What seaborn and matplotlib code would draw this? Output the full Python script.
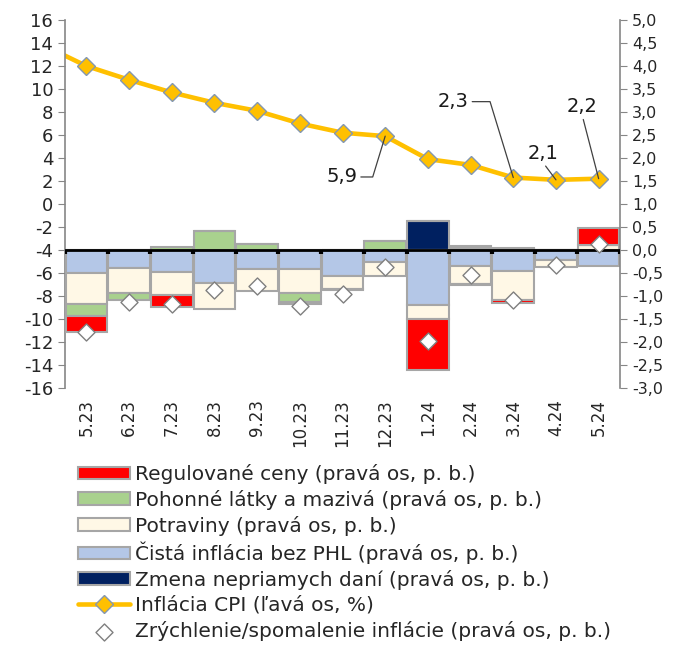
import numpy as np
import seaborn as sns
import matplotlib.pyplot as plt

months = ["5.23", "6.23", "7.23", "8.23", "9.23", "10.23", "11.23",
          "12.23", "1.24", "2.24", "3.24", "4.24", "5.24"]

# contributions, right axis (p. b.)
regulated = [-0.34, 0.00, -0.26, 0.00, 0.00, -0.04, 0.00,
             0.00, -1.11, -0.04, -0.06, 0.00, 0.37]
fuels = [-0.26, -0.15, 0.07, 0.41, 0.12, -0.20, -0.04,
         0.19, 0.00, 0.04, 0.03, 0.00, 0.00]
food = [-0.68, -0.54, -0.50, -0.58, -0.48, -0.51, -0.27,
        -0.30, -0.30, -0.38, -0.63, -0.16, 0.10]
core = [-0.50, -0.39, -0.48, -0.71, -0.41, -0.42, -0.57,
        -0.26, -1.20, -0.35, -0.46, -0.21, -0.35]
taxes = [0.00, 0.00, 0.00, 0.00, 0.00, 0.00, 0.00,
         0.00, 0.64, 0.05, 0.02, 0.00, 0.00]
acceleration = [-1.78, -1.13, -1.17, -0.87, -0.78, -1.21, -0.95,
                -0.37, -1.98, -0.55, -1.08, -0.32, 0.13]

# CPI, left axis (%), first value is 4.23 (outside the visible range)
cpi_x = list(range(-1, 13))
cpi = [13.8, 12.0, 10.8, 9.7, 8.8, 8.1, 7.0, 6.2, 5.9, 3.9, 3.4, 2.3, 2.1, 2.2]

# labelled CPI points: month index -> text position (x, y in left axis units)
cpi_labels = {7: (5.99, 2.35), 10: (8.60, 8.90), 11: (10.70, 4.41),
              12: (11.62, 8.46)}

sns.set_style("white")
plt.rcParams["font.family"] = ["DejaVu Sans"]
plt.rcParams["axes.unicode_minus"] = False

gray = "#868686"
fig = plt.figure(figsize=(6.86, 6.47), dpi=100)
ax = fig.add_axes([65 / 686, 1 - 388 / 647, 555 / 686, 368 / 647])
ax2 = ax.twinx()

x = np.arange(len(months))

# stacked bars, Excel order: first series sits next to zero
series = [(taxes, "#002060", "Zmena nepriamych daní (pravá os, p. b.)"),
          (core, "#B4C7E7", "Čistá inflácia bez PHL (pravá os, p. b.)"),
          (food, "#FFF8E6", "Potraviny (pravá os, p. b.)"),
          (fuels, "#A9D18E", "Pohonné látky a mazivá (pravá os, p. b.)"),
          (regulated, "#FF0000", "Regulované ceny (pravá os, p. b.)")]
pos = np.zeros(len(months))
neg = np.zeros(len(months))
for vals, color, label in series:
    v = np.array(vals)
    bottom = np.where(v >= 0, pos, neg)
    ax2.bar(x, v, bottom=bottom, width=0.975, color=color,
            edgecolor="#A6A6A6", linewidth=1.5, label=label, zorder=2)
    pos = pos + np.where(v > 0, v, 0)
    neg = neg + np.where(v < 0, v, 0)

ax2.axhline(0, color="black", lw=2, zorder=3)
ax2.vlines(np.arange(-0.5, len(months)), -0.09, 0, color="black", lw=3,
           zorder=3)

sns.scatterplot(x=x, y=acceleration, ax=ax2, marker="D", s=75,
                color="white", edgecolor="#7F7F7F", linewidth=1, zorder=5,
                label="Zrýchlenie/spomalenie inflácie (pravá os, p. b.)")

sns.lineplot(x=cpi_x, y=cpi, ax=ax, color="#FFC000", lw=3.3, marker="D",
             markersize=9, markerfacecolor="#FFC000",
             markeredgecolor="#8497B0", markeredgewidth=1,
             label="Inflácia CPI (ľavá os, %)")
if ax.get_legend():
    ax.get_legend().remove()
if ax2.get_legend():
    ax2.get_legend().remove()

for i, (tx, ty) in cpi_labels.items():
    val = cpi[i + 1]
    txt = f"{val:.1f}".replace(".", ",")
    if i in (7, 10):
        conn = "angle,angleA=0,angleB=%d,rad=0" % (73 if i == 7 else 107)
        rel = (1, 0.5)
    else:
        conn = "arc3"
        rel = (0.5, 0)
    ax.annotate(txt, xy=(i, val), xytext=(tx, ty), textcoords="data",
                ha="center", va="center", fontsize=14, color="#1a1a1a",
                arrowprops=dict(arrowstyle="-", color="#404040", lw=0.9,
                                shrinkA=0, shrinkB=0, relpos=rel,
                                connectionstyle=conn))

ax.set_xlim(-0.5, len(months) - 0.5)
ax.set_ylim(-16, 16)
ax.set_yticks(range(-16, 17, 2))
ax2.set_ylim(-3, 5)
rticks = np.arange(-3, 5.01, 0.5)
ax2.set_yticks(rticks)
ax2.set_yticklabels([f"{t:.1f}".replace(".", ",") for t in rticks])
ax.set_xticks(x)
ax.set_xticklabels(months, rotation=90)
ax.tick_params(axis="x", length=0, pad=8, labelsize=12)
ax.tick_params(axis="y", direction="out", length=5, color=gray,
               labelsize=13)
ax2.tick_params(axis="y", direction="out", length=5, color=gray,
                labelsize=11.5)
ax.set_xlabel("")
ax.set_ylabel("")
ax2.set_ylabel("")

for a in (ax, ax2):
    for s in ("top", "bottom"):
        a.spines[s].set_visible(False)
ax.spines["right"].set_visible(False)
ax2.spines["left"].set_visible(False)
ax.spines["left"].set_color(gray)
ax2.spines["right"].set_color(gray)
ax.spines["left"].set_linewidth(1.2)
ax2.spines["right"].set_linewidth(1.2)

h1, l1 = ax.get_legend_handles_labels()
h2, l2 = ax2.get_legend_handles_labels()
hd = dict(zip(l2 + l1, h2 + h1))
order = [s[2] for s in series[::-1]] + [
    "Inflácia CPI (ľavá os, %)",
    "Zrýchlenie/spomalenie inflácie (pravá os, p. b.)"]
fig.legend([hd[k] for k in order], order, loc="upper left",
           bbox_to_anchor=(78 / 686, 1 - 464 / 647), frameon=False,
           fontsize=14.5, handlelength=2.6, handleheight=0.6,
           handletextpad=0.25, labelspacing=0.29, borderpad=0,
           borderaxespad=0)

fig.savefig("out.png", dpi=100)
